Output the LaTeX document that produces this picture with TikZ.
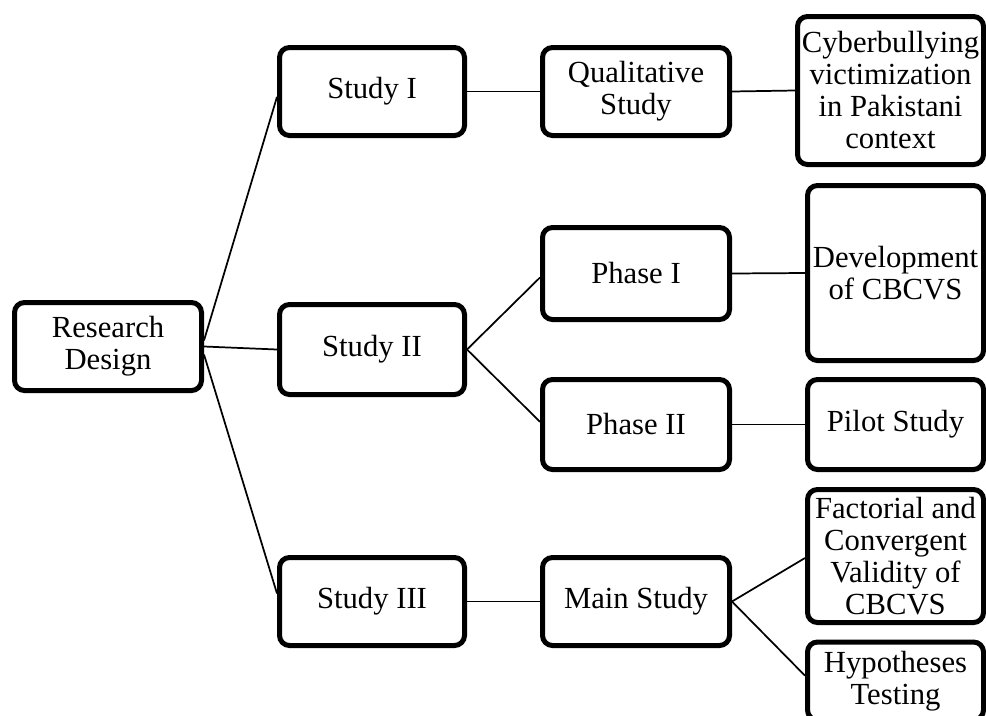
\documentclass[tikz,border=0pt]{standalone}
\usepackage{fontspec}
\setmainfont{Liberation Serif}
\begin{document}
\begin{tikzpicture}[x=0.75pt, y=-0.75pt,
  blk/.style 2 args={draw=black, line width=3.75pt, rounded corners=7.5pt,
    fill=white, align=center, inner sep=0pt,
    minimum width=#1*0.75pt, minimum height=#2*0.75pt,
    font=\fontsize{23pt}{24pt}\selectfont},
  link/.style={draw=black, line width=1.3pt}]
\useasboundingbox (0,0) rectangle (986,715);
\clip (0,0) rectangle (986,715);

% first level
\node[blk={187}{88}] (rd) at (108,346.5) {Research\\Design};

% second level
\node[blk={185}{88}] (s1) at (372,91.5)  {Study I};
\node[blk={185}{90}] (s2) at (372,349.5) {Study II};
\node[blk={185}{88}] (s3) at (372,601.5) {Study III};

% third level
\node[blk={187}{88}] (qs) at (636,91.5)  {Qualitative\\Study};
\node[blk={187}{92}] (p1) at (636,273.5) {Phase I};
\node[blk={187}{90}] (p2) at (636,424.5) {Phase II};
\node[blk={187}{88}] (ms) at (636,601.5) {Main Study};

% fourth level
\node[blk={186}{148}] (cb)    at (890.5,90.5) {Cyberbullying\\victimization\\in Pakistani\\context};
\node[blk={176}{175}] (dev)   at (895.5,273)  {Development\\of CBCVS};
\node[blk={176}{90}]  (pilot) at (895.5,424.5) {Pilot Study};
\node[blk={176}{133}] (fac)   at (895.5,556)  {Factorial and\\Convergent\\Validity of\\CBCVS};
\node[blk={176}{78}]  (hyp)   at (895.5,681)  {Hypotheses\\Testing};

% connectors
\draw[link] ([yshift=4.5pt]rd.east) -- ([yshift=-4pt]s1.west);
\draw[link] (rd.east) -- (s2.west);
\draw[link] ([yshift=-6pt]rd.east) -- ([yshift=6pt]s3.west);

\draw[link] (s1.east) -- (qs.west);
\draw[link] (s2.east) -- ([yshift=-3pt]p1.west);
\draw[link] (s2.east) -- ([yshift=2pt]p2.west);
\draw[link] (s3.east) -- (ms.west);

\draw[link] (qs.east) -- (cb.west);
\draw[link] (p1.east) -- (dev.west);
\draw[link] (p2.east) -- (pilot.west);
\draw[link] (ms.east) -- ([yshift=-1.5pt]fac.west);
\draw[link] (ms.east) -- ([yshift=4pt]hyp.west);
\end{tikzpicture}
\end{document}
